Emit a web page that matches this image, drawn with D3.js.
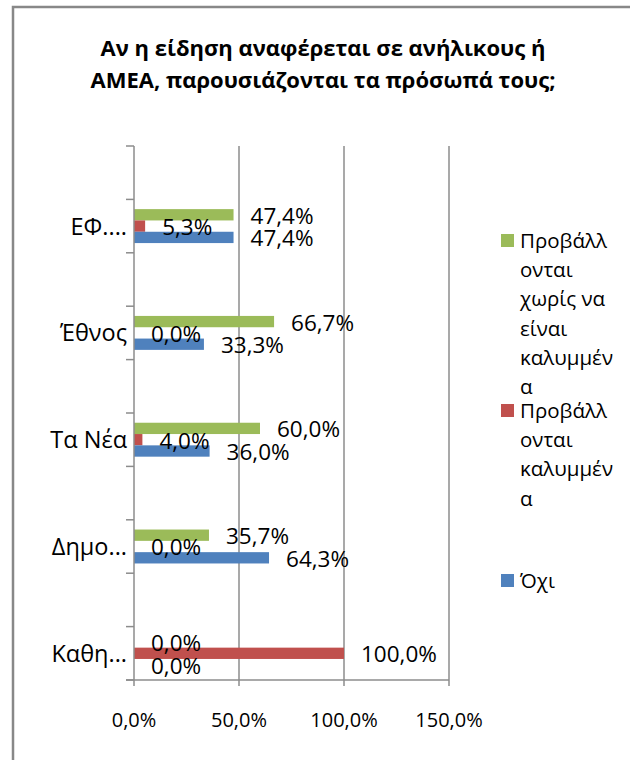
<!DOCTYPE html>
<html>
<head>
<meta charset="utf-8">
<script src="https://cdn.jsdelivr.net/npm/d3@7"></script>
<style>
  body { margin: 0; background: #fff; }
  svg { display: block; font-family: "Open Sans", sans-serif; }
</style>
</head>
<body>
<svg id="chart" width="630" height="760"></svg>
<script>
// categories, top to bottom as they appear in the chart
var categories = ["ΕΦ....", "Έθνος", "Τα Νέα", "Δημο...", "Καθη..."];
var seriesNames = [
  "Προβάλλονται χωρίς να είναι καλυμμένα",
  "Προβάλλονται καλυμμένα",
  "Όχι"
];
var uncovered = [47.4, 66.7, 60.0, 35.7, 0.0];
var covered = [5.3, 0.0, 4.0, 0.0, 100.0];
var no = [47.4, 33.3, 36.0, 64.3, 0.0];
var xTicks = [0, 50, 100, 150];
var legendLines = [
  ["Προβάλλ", "ονται", "χωρίς να", "είναι", "καλυμμέν", "α"],
  ["Προβάλλ", "ονται", "καλυμμέν", "α"],
  ["Όχι"]
];
var titleLines = [
  "Αν η είδηση αναφέρεται σε ανήλικους ή",
  "ΑΜΕΑ, παρουσιάζονται τα πρόσωπά τους;"
];

function drawChart() {
  var colors = ["#9BBB59", "#C0504D", "#4F81BD"];
  var values = [uncovered, covered, no];
  var fmt = function(v) { return d3.format(".1f")(v).replace(".", ",") + "%"; };

  var svg = d3.select("#chart");

  // outer chart frame (right and bottom edges fall outside the picture)
  svg.append("rect")
    .attr("x", 13)
    .attr("y", 7)
    .attr("width", 700)
    .attr("height", 800)
    .attr("fill", "none")
    .attr("stroke", "#888")
    .attr("stroke-width", 2.5);

  svg.append("g")
    .selectAll("text")
    .data(titleLines)
    .enter()
    .append("text")
    .attr("x", 323)
    .attr("y", function(d, i) { return 56 + i * 32; })
    .attr("text-anchor", "middle")
    .attr("font-weight", "bold")
    .attr("font-size", 22)
    .text(function(d) { return d; });

  var plotLeft = 134, plotTop = 146, plotRight = 449, plotBottom = 680;

  // every category sits in its own slot with an empty slot above it
  var slots = [];
  categories.forEach(function(c, i) {
    slots.push("_gap" + i);
    slots.push(c);
  });

  var x = d3.scaleLinear().domain([0, 150]).range([plotLeft, plotRight]);
  var y = d3.scaleBand().domain(slots).range([plotTop, plotBottom]);
  var inner = d3.scaleBand()
    .domain(d3.range(seriesNames.length))
    .range([0, y.bandwidth()])
    .paddingOuter(0.86);

  // gridlines
  svg.append("g")
    .selectAll("line")
    .data(xTicks.slice(1))
    .enter()
    .append("line")
    .attr("x1", function(d) { return x(d); })
    .attr("x2", function(d) { return x(d); })
    .attr("y1", plotTop)
    .attr("y2", plotBottom)
    .attr("stroke", "#8c8c8c")
    .attr("stroke-width", 1.5);

  // bars
  var groups = svg.append("g")
    .selectAll("g")
    .data(categories)
    .enter()
    .append("g")
    .attr("transform", function(d) { return "translate(0," + y(d) + ")"; });

  groups.selectAll("rect")
    .data(function(d, ci) {
      return values.map(function(v, si) { return { s: si, v: v[ci] }; });
    })
    .enter()
    .append("rect")
    .attr("x", x(0))
    .attr("y", function(d) { return inner(d.s); })
    .attr("width", function(d) { return x(d.v) - x(0); })
    .attr("height", inner.bandwidth())
    .attr("fill", function(d) { return colors[d.s]; });

  groups.selectAll("text")
    .data(function(d, ci) {
      return values.map(function(v, si) { return { s: si, v: v[ci] }; });
    })
    .enter()
    .append("text")
    .attr("x", function(d) { return x(d.v) + 17; })
    .attr("y", function(d) { return inner(d.s) + inner.bandwidth() / 2 + 9; })
    .attr("font-size", 22.5)
    .attr("fill", "#000")
    .text(function(d) { return fmt(d.v); });

  // y axis
  var yAxis = svg.append("g");
  yAxis.append("line")
    .attr("x1", plotLeft).attr("x2", plotLeft)
    .attr("y1", plotTop).attr("y2", plotBottom)
    .attr("stroke", "#8c8c8c")
    .attr("stroke-width", 1.5);
  yAxis.selectAll(".tick")
    .data(slots.map(function(s) { return y(s); }).concat([plotBottom]))
    .enter()
    .append("line")
    .attr("x1", plotLeft - 8).attr("x2", plotLeft)
    .attr("y1", function(d) { return d; })
    .attr("y2", function(d) { return d; })
    .attr("stroke", "#8c8c8c")
    .attr("stroke-width", 1.5);
  yAxis.selectAll("text")
    .data(categories)
    .enter()
    .append("text")
    .attr("x", plotLeft - 7)
    .attr("y", function(d) { return y(d) + y.bandwidth() / 2 + 8.5; })
    .attr("text-anchor", "end")
    .attr("font-size", 23.5)
    .text(function(d) { return d; });

  // x axis
  var xAxis = svg.append("g");
  xAxis.append("line")
    .attr("x1", plotLeft - 8).attr("x2", plotRight)
    .attr("y1", plotBottom).attr("y2", plotBottom)
    .attr("stroke", "#8c8c8c")
    .attr("stroke-width", 1.5);
  xAxis.selectAll(".tick")
    .data(xTicks)
    .enter()
    .append("line")
    .attr("x1", function(d) { return x(d); })
    .attr("x2", function(d) { return x(d); })
    .attr("y1", plotBottom)
    .attr("y2", plotBottom + 6)
    .attr("stroke", "#8c8c8c")
    .attr("stroke-width", 1.5);
  xAxis.selectAll("text")
    .data(xTicks)
    .enter()
    .append("text")
    .attr("x", function(d) { return x(d); })
    .attr("y", 727)
    .attr("text-anchor", "middle")
    .attr("font-size", 20)
    .text(function(d) { return fmt(d); });

  // legend
  var legendStart = [248, 418, 588];
  var legend = svg.append("g")
    .selectAll("g")
    .data(seriesNames)
    .enter()
    .append("g")
    .attr("transform", function(d, i) { return "translate(501," + legendStart[i] + ")"; });

  legend.append("rect")
    .attr("x", 0)
    .attr("y", -14)
    .attr("width", 13)
    .attr("height", 13)
    .attr("fill", function(d, i) { return colors[i]; });

  legend.append("text")
    .attr("font-size", 20.5)
    .selectAll("tspan")
    .data(function(d, i) { return legendLines[i]; })
    .enter()
    .append("tspan")
    .attr("x", 19)
    .attr("y", function(d, j) { return j * 29.2; })
    .text(function(d) { return d; });
}

drawChart();
</script>
</body>
</html>
